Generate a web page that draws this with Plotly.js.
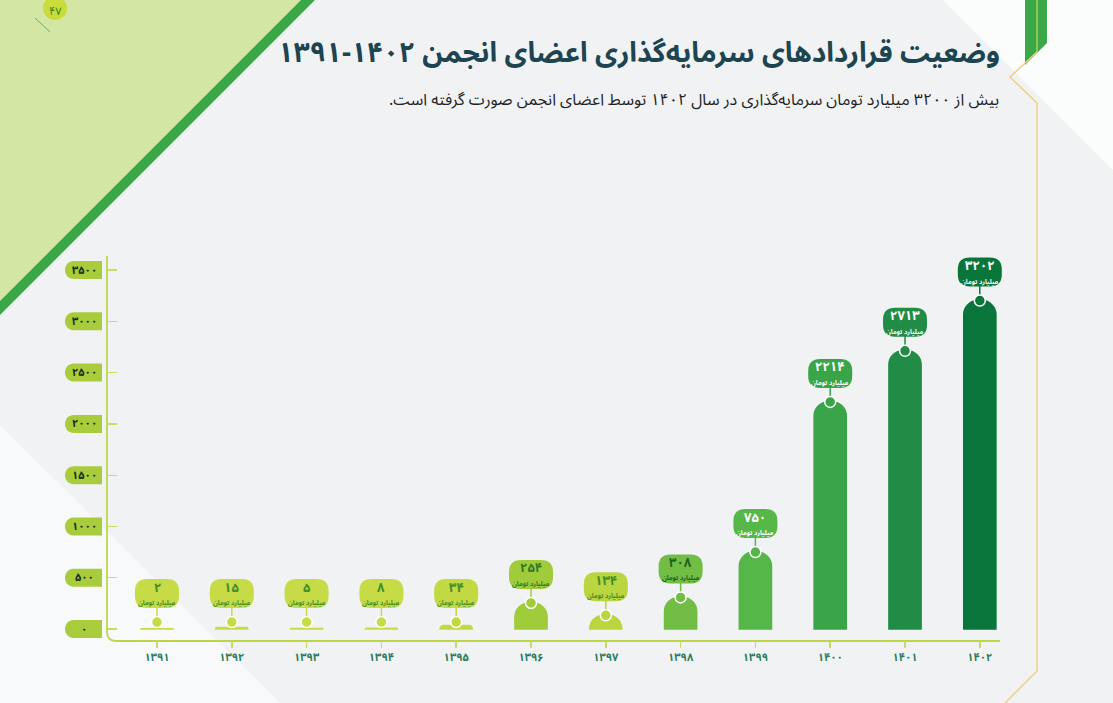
<!DOCTYPE html>
<html><head><meta charset="utf-8">
<script src="https://cdn.plot.ly/plotly-3.0.1.min.js"></script>
<style>html,body{margin:0;padding:0;background:#f0f2f4;}#chart{width:1113px;height:703px;}</style>
</head><body><div id="chart"></div>
<script>
// ---------- data ----------
const years = ['۱۳۹۱','۱۳۹۲','۱۳۹۳','۱۳۹۴','۱۳۹۵','۱۳۹۶','۱۳۹۷','۱۳۹۸','۱۳۹۹','۱۴۰۰','۱۴۰۱','۱۴۰۲'];
const values = [2, 15, 5, 8, 34, 254, 134, 308, 750, 2214, 2713, 3202];
const valueLabels = ['۲','۱۵','۵','۸','۳۴','۲۵۴','۱۳۴','۳۰۸','۷۵۰','۲۲۱۴','۲۷۱۳','۳۲۰۲'];
const unitLabel = 'میلیارد تومان';
const yTickVals = [0, 500, 1000, 1500, 2000, 2500, 3000, 3500];
const yTickText = ['۰','۵۰۰','۱۰۰۰','۱۵۰۰','۲۰۰۰','۲۵۰۰','۳۰۰۰','۳۵۰۰'];
const titleText = 'وضعیت قراردادهای سرمایه‌گذاری اعضای انجمن ۱۴۰۲-۱۳۹۱';
const subtitleText = 'بیش از ۳۲۰۰ میلیارد تومان سرمایه‌گذاری در سال ۱۴۰۲ توسط اعضای انجمن صورت گرفته است.';
const pageNumber = '۴۷';

// ---------- styles ----------
const barColors = ['#c6db45','#c6db45','#c6db45','#c6db45','#c2d942','#a0cb3b','#b9d53f','#72be44','#55b748','#3aa449','#218c45','#0a753a'];
const labelColors = ['#3f8d2a','#3f8d2a','#3f8d2a','#3f8d2a','#3f8d2a','#2f7a26','#3f8d2a','#1f5f22','#ffffff','#ffffff','#ffffff','#ffffff'];
const FONT = '"Noto Sans Arabic", "Vazirmatn", "DejaVu Sans", sans-serif';
const W = 1113, H = 703;
const M = {l: 108, r: 107, t: 256, b: 63};
const PW = W - M.l - M.r, PH = H - M.t - M.b;
const yRange = [-107, 3637];
const pxPerUnit = PH / (yRange[1] - yRange[0]);
const PX = x => (x - M.l) / PW;
const PY = y => (H - M.b - y) / PH;
const RLM = '\u200F';

const shapes = [];
const annotations = [];

function polyPath(pts) {
  return 'M' + pts.map(p => PX(p[0]) + ',' + PY(p[1])).join(' L') + ' Z';
}
// decorative background
shapes.push({type:'path', xref:'paper', yref:'paper', layer:'below', path: polyPath([[0,0],[301,0],[0,301]]), fillcolor:'#d4e6a3', line:{width:0}});
shapes.push({type:'path', xref:'paper', yref:'paper', layer:'below', path: polyPath([[301,0],[315,0],[0,315],[0,301]]), fillcolor:'#3aa847', line:{width:0}});
shapes.push({type:'path', xref:'paper', yref:'paper', layer:'below', path: polyPath([[0,425],[0,703],[280,703]]), fillcolor:'#f8f9fa', line:{width:0}});
shapes.push({type:'path', xref:'paper', yref:'paper', layer:'below', path: polyPath([[943,0],[1113,0],[1113,170]]), fillcolor:'#fbfcfc', line:{width:0}});
shapes.push({type:'path', xref:'paper', yref:'paper', layer:'below', path: polyPath([[1025,0],[1047,0],[1047,43],[1025,65]]), fillcolor:'#3aa847', line:{width:0}});
shapes.push({type:'line', xref:'paper', yref:'paper', layer:'below', x0:PX(1037), y0:PY(0), x1:PX(1037), y1:PY(52), line:{color:'#d9e36c', width:1}});
shapes.push({type:'path', xref:'paper', yref:'paper', layer:'below',
  path: 'M'+PX(1037)+','+PY(52)+' L'+PX(1010)+','+PY(77)+' L'+PX(1037)+','+PY(103)+' L'+PX(1037)+','+PY(671)+' L'+PX(1005)+','+PY(703),
  line:{color:'#f2cf80', width:1.5}});
// page number blob
shapes.push({type:'line', xref:'paper', yref:'paper', layer:'below', x0:PX(35), y0:PY(18), x1:PX(50), y1:PY(32), line:{color:'#6fae5f', width:1}});
shapes.push({type:'circle', xref:'paper', yref:'paper', layer:'below', x0:PX(43), y0:PY(-4), x1:PX(67), y1:PY(20), fillcolor:'#c8dc3c', line:{width:0}});
annotations.push({xref:'paper', yref:'paper', x:PX(55), y:PY(11), xanchor:'center', yanchor:'middle', borderpad:0,
  text:pageNumber, showarrow:false, font:{family:FONT, size:11, color:'#3a7d1f'}});

// axis frame (rounded corner)
shapes.push({type:'path', xref:'paper', yref:'paper', layer:'below',
  path: 'M'+PX(107)+','+PY(256)+' L'+PX(107)+','+PY(632)+' Q'+PX(107)+','+PY(641)+' '+PX(116)+','+PY(641)+' L'+PX(1000)+','+PY(641),
  line:{color:'#bcd648', width:1.8}});

// y tick pills
yTickVals.forEach((v, k) => {
  shapes.push({type:'path', xref:'paper', yref:'y', xsizemode:'pixel', ysizemode:'pixel', xanchor:0, yanchor:v, layer:'below',
    path:'M-6,9 L-34,9 C-46,9 -46,-9 -34,-9 L-6,-9 Z', fillcolor:'#a9cc3d', line:{width:0}});
  annotations.push({xref:'paper', yref:'y', x:PX(84), y:v, text:yTickText[k], showarrow:false, xanchor:'center', yanchor:'middle', borderpad:0,
    font:{family:FONT, size:11, weight:700, color:'#1b2d12'}});
});

// value bubbles
values.forEach((v, i) => {
  const c = barColors[i];
  const shift = Math.max(0, 7 - v * pxPerUnit);
  const r = 5.5;
  const cy = shift + 28, top = cy + 15, bot = cy - 14;
  shapes.push({type:'line', xref:'x', yref:'y', xsizemode:'pixel', ysizemode:'pixel', xanchor:i, yanchor:v,
    x0:0, x1:0, y0:shift + r, y1:bot + 1, line:{color:c, width:1.5}});
  shapes.push({type:'circle', xref:'x', yref:'y', xsizemode:'pixel', ysizemode:'pixel', xanchor:i, yanchor:v,
    x0:-r, x1:r, y0:shift - r, y1:shift + r, fillcolor:c, line:{color:'#ffffff', width:1.5}});
  shapes.push({type:'path', xref:'x', yref:'y', xsizemode:'pixel', ysizemode:'pixel', xanchor:i, yanchor:v,
    path:`M-10,${top} L10,${top} Q22,${top} 22,${top-12} L22,${bot+12} Q22,${bot} 10,${bot} L-10,${bot} Q-22,${bot} -22,${bot+12} L-22,${top-12} Q-22,${top} -10,${top} Z`,
    fillcolor:c, line:{width:0}});
  annotations.push({xref:'x', yref:'y', x:i, y:v, yshift:cy + 6.5, text:valueLabels[i], showarrow:false, xanchor:'center', yanchor:'middle', borderpad:0,
    font:{family:FONT, size:13, weight:700, color:labelColors[i]}});
  annotations.push({xref:'x', yref:'y', x:i, y:v, yshift:cy - 9, text:RLM + unitLabel + RLM, showarrow:false, xanchor:'center', yanchor:'middle', borderpad:0,
    font:{family:FONT, size:6.5, weight:700, color:labelColors[i]}});
});

// subtitle
annotations.push({xref:'paper', yref:'paper', x:PX(1000), y:PY(100), xanchor:'right', yanchor:'middle', showarrow:false, borderpad:0,
  text:RLM + subtitleText + RLM, font:{family:FONT, size:16, color:'#222222'}});

const trace = {
  type:'bar', x:years, y:values, width:0.43,
  marker:{color:barColors, cornerradius:14, line:{color:barColors, width:1.5}},
  hoverinfo:'skip'
};

const layout = {
  width:W, height:H, margin:M,
  paper_bgcolor:'#f0f2f4', plot_bgcolor:'rgba(0,0,0,0)',
  showlegend:false,
  title:{text:RLM + titleText + RLM, x:1000/W, xanchor:'right', xref:'container', y:1 - 52/H, yanchor:'middle', yref:'container',
    font:{family:FONT, size:28, weight:700, color:'#1d4451'}},
  xaxis:{type:'category', range:[-0.655, 11.35], showgrid:false, zeroline:false, showline:false,
    ticks:'outside', ticklen:7, tickwidth:1.5, tickcolor:'#c8dc60',
    tickfont:{family:FONT, size:11, weight:700, color:'#2b7d5e'}, fixedrange:true},
  yaxis:{range:yRange, showgrid:false, zeroline:false, showline:false, showticklabels:false,
    tickmode:'array', tickvals:yTickVals, ticks:'inside', ticklen:9, tickwidth:1.2, tickcolor:'#c8dc60', fixedrange:true},
  shapes:shapes, annotations:annotations
};
Plotly.newPlot('chart', [trace], layout, {displayModeBar:false, staticPlot:true});
</script></body></html>
